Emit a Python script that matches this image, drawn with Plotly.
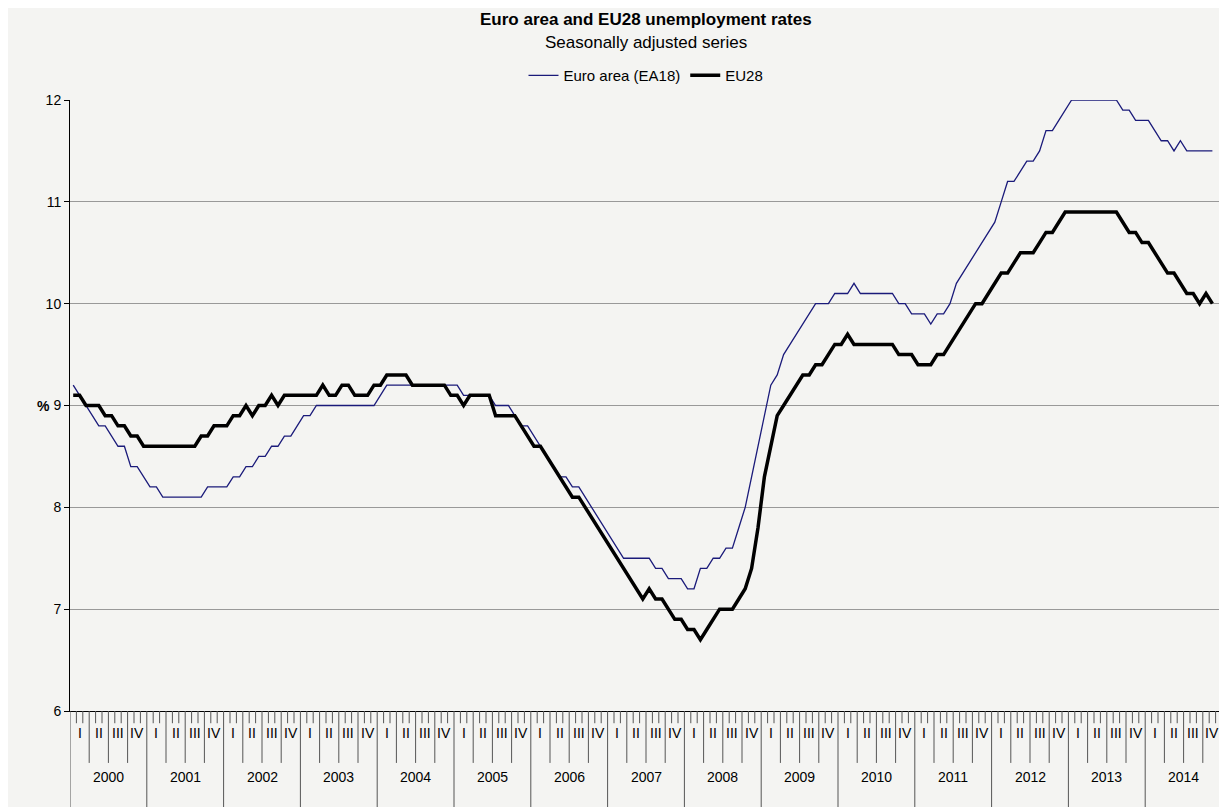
import plotly.graph_objects as go

years = [str(y) for y in range(2000, 2015)]
quarters = ["I", "II", "III", "IV"]

# Monthly seasonally adjusted unemployment rates (%), Jan 2000 - Nov 2014
ea18 = [
    9.2, 9.1, 9.0, 8.9, 8.8, 8.8, 8.7, 8.6, 8.6, 8.4, 8.4, 8.3,
    8.2, 8.2, 8.1, 8.1, 8.1, 8.1, 8.1, 8.1, 8.1, 8.2, 8.2, 8.2,
    8.2, 8.3, 8.3, 8.4, 8.4, 8.5, 8.5, 8.6, 8.6, 8.7, 8.7, 8.8,
    8.9, 8.9, 9.0, 9.0, 9.0, 9.0, 9.0, 9.0, 9.0, 9.0, 9.0, 9.0,
    9.1, 9.2, 9.2, 9.2, 9.2, 9.2, 9.2, 9.2, 9.2, 9.2, 9.2, 9.2,
    9.2, 9.1, 9.1, 9.1, 9.1, 9.1, 9.0, 9.0, 9.0, 8.9, 8.8, 8.8,
    8.7, 8.6, 8.5, 8.4, 8.3, 8.3, 8.2, 8.2, 8.1, 8.0, 7.9, 7.8,
    7.7, 7.6, 7.5, 7.5, 7.5, 7.5, 7.5, 7.4, 7.4, 7.3, 7.3, 7.3,
    7.2, 7.2, 7.4, 7.4, 7.5, 7.5, 7.6, 7.6, 7.8, 8.0, 8.3, 8.6,
    8.9, 9.2, 9.3, 9.5, 9.6, 9.7, 9.8, 9.9, 10.0, 10.0, 10.0, 10.1,
    10.1, 10.1, 10.2, 10.1, 10.1, 10.1, 10.1, 10.1, 10.1, 10.0, 10.0, 9.9,
    9.9, 9.9, 9.8, 9.9, 9.9, 10.0, 10.2, 10.3, 10.4, 10.5, 10.6, 10.7,
    10.8, 11.0, 11.2, 11.2, 11.3, 11.4, 11.4, 11.5, 11.7, 11.7, 11.8, 11.9,
    12.0, 12.0, 12.0, 12.0, 12.0, 12.0, 12.0, 12.0, 11.9, 11.9, 11.8, 11.8,
    11.8, 11.7, 11.6, 11.6, 11.5, 11.6, 11.5, 11.5, 11.5, 11.5, 11.5,
]
eu28 = [
    9.1, 9.1, 9.0, 9.0, 9.0, 8.9, 8.9, 8.8, 8.8, 8.7, 8.7, 8.6,
    8.6, 8.6, 8.6, 8.6, 8.6, 8.6, 8.6, 8.6, 8.7, 8.7, 8.8, 8.8,
    8.8, 8.9, 8.9, 9.0, 8.9, 9.0, 9.0, 9.1, 9.0, 9.1, 9.1, 9.1,
    9.1, 9.1, 9.1, 9.2, 9.1, 9.1, 9.2, 9.2, 9.1, 9.1, 9.1, 9.2,
    9.2, 9.3, 9.3, 9.3, 9.3, 9.2, 9.2, 9.2, 9.2, 9.2, 9.2, 9.1,
    9.1, 9.0, 9.1, 9.1, 9.1, 9.1, 8.9, 8.9, 8.9, 8.9, 8.8, 8.7,
    8.6, 8.6, 8.5, 8.4, 8.3, 8.2, 8.1, 8.1, 8.0, 7.9, 7.8, 7.7,
    7.6, 7.5, 7.4, 7.3, 7.2, 7.1, 7.2, 7.1, 7.1, 7.0, 6.9, 6.9,
    6.8, 6.8, 6.7, 6.8, 6.9, 7.0, 7.0, 7.0, 7.1, 7.2, 7.4, 7.8,
    8.3, 8.6, 8.9, 9.0, 9.1, 9.2, 9.3, 9.3, 9.4, 9.4, 9.5, 9.6,
    9.6, 9.7, 9.6, 9.6, 9.6, 9.6, 9.6, 9.6, 9.6, 9.5, 9.5, 9.5,
    9.4, 9.4, 9.4, 9.5, 9.5, 9.6, 9.7, 9.8, 9.9, 10.0, 10.0, 10.1,
    10.2, 10.3, 10.3, 10.4, 10.5, 10.5, 10.5, 10.6, 10.7, 10.7, 10.8, 10.9,
    10.9, 10.9, 10.9, 10.9, 10.9, 10.9, 10.9, 10.9, 10.8, 10.7, 10.7, 10.6,
    10.6, 10.5, 10.4, 10.3, 10.3, 10.2, 10.1, 10.1, 10.0, 10.1, 10.0,
]

months = list(range(len(ea18)))
n_months = 12 * len(years)

fig = go.Figure()
fig.add_trace(go.Scatter(x=months, y=ea18, mode="lines", name="Euro area (EA18)",
                         line=dict(color="#1a1a7a", width=1.3)))
fig.add_trace(go.Scatter(x=months, y=eu28, mode="lines", name="EU28",
                         line=dict(color="black", width=3.5)))

shapes = []
annotations = []
# month ticks, quarter separators, year separators
for m in range(n_months + 1):
    if m % 12 == 0:
        y1 = -0.16
    elif m % 3 == 0:
        y1 = -0.085
    else:
        y1 = -0.02
    shapes.append(dict(type="line", xref="x", yref="paper", x0=m - 0.5, x1=m - 0.5,
                       y0=0, y1=y1, line=dict(color="#555", width=1)))
for i, yr in enumerate(years):
    for q, ql in enumerate(quarters):
        annotations.append(dict(x=12 * i + 3 * q + 1, y=-0.053, xref="x", yref="paper",
                                text=ql, showarrow=False,
                                font=dict(size=14, color="black")))
    annotations.append(dict(x=12 * i + 5.5, y=-0.125, xref="x", yref="paper", text=yr,
                            showarrow=False, font=dict(size=14, color="black")))

annotations.append(dict(x=-0.03, y=0.5, xref="paper", yref="paper", text="<b>%</b>",
                        showarrow=False, font=dict(size=14, color="black")))
annotations.append(dict(x=0.5, y=1.151, xref="paper", yref="paper",
                        text="<b>Euro area and EU28 unemployment rates</b>",
                        showarrow=False, font=dict(size=17, color="black")))
annotations.append(dict(x=0.5, y=1.113, xref="paper", yref="paper",
                        text="Seasonally adjusted series",
                        showarrow=False, font=dict(size=17, color="black")))

fig.update_layout(
    width=1219, height=799,
    margin=dict(l=62, r=5, t=92, b=96),
    paper_bgcolor="#f4f4f2", plot_bgcolor="#f4f4f2",
    font=dict(family="Liberation Sans, Arial", size=14, color="black"),
    showlegend=True,
    legend=dict(orientation="h", x=0.5, xanchor="center", y=1.04, yanchor="middle",
                bgcolor="rgba(0,0,0,0)", font=dict(size=15)),
    shapes=shapes,
    annotations=annotations,
    xaxis=dict(range=[-0.5, n_months - 0.5], showticklabels=False, ticks="",
               showgrid=False, zeroline=False, showline=True,
               linecolor="black", linewidth=1),
    yaxis=dict(range=[6, 12], dtick=1, showgrid=True, gridcolor="#999",
               gridwidth=1, zeroline=False, showline=True, linecolor="black",
               ticks="outside", ticklen=5, tickcolor="black"),
)

fig.write_html("out.html")
